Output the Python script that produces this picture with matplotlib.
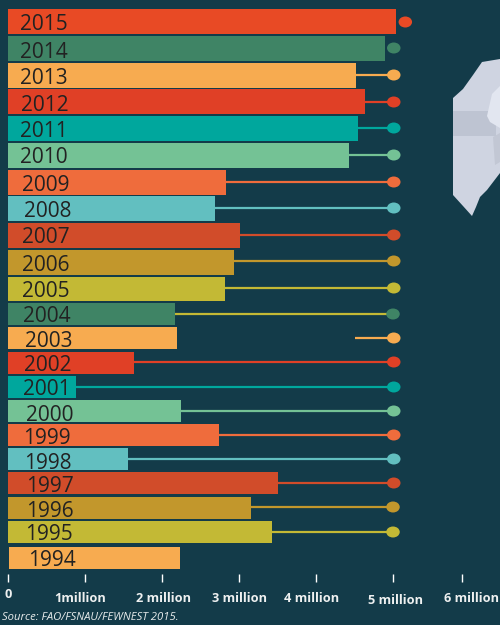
import matplotlib
matplotlib.use("Agg")
import matplotlib.pyplot as plt
from matplotlib.patches import Ellipse, Polygon

# values in million
years = [2015, 2014, 2013, 2012, 2011, 2010, 2009, 2008, 2007, 2006, 2005,
         2004, 2003, 2002, 2001, 2000, 1999, 1998, 1997, 1996, 1995, 1994]
values = [5.04, 4.90, 4.52, 4.64, 4.55, 4.43, 2.83, 2.69, 3.01, 2.94, 2.82,
          2.17, 2.19, 1.64, 0.88, 2.25, 2.74, 1.56, 3.51, 3.16, 3.43, 2.23]
target = [5.16, 5.01, 5.01, 5.01, 5.01, 5.01, 5.01, 5.01, 5.01, 5.01, 5.01,
          5.0, 5.01, 5.01, 5.01, 5.01, 5.01, 5.01, 5.01, 5.0, 5.0, None]
line_start = {2003: 4.5}
no_line = [2015, 2014, 1994]

tick_pos = [0, 1, 2, 3, 4, 5, 5.9]
tick_labels = ["0", "1million", "2 million", "3 million", "4 million", "5 million", "6 million"]

source = "Source: FAO/FSNAU/FEWNEST 2015."

# colours cycle through the years
palette = {2015: "#e84a25", 2014: "#3f8465", 2013: "#f7ab50", 2012: "#e04026",
           2011: "#00a79d", 2010: "#74c295", 2009: "#ef6c3c", 2008: "#62bfc0",
           2007: "#d14c2a", 2006: "#c2972c", 2005: "#c3b935", 2004: "#3f8465",
           2003: "#f7ab50", 2002: "#e04026", 2001: "#00a79d", 2000: "#74c295",
           1999: "#ef6c3c", 1998: "#62bfc0", 1997: "#d14c2a", 1996: "#c2972c",
           1995: "#c3b935", 1994: "#f7ab50"}
line_colour = dict(palette)
line_colour[2004] = "#c3b935"
bg = "#133b49"

# layout in pixels, the rows are not evenly spaced in the original
bar_top = [9, 36, 63, 89, 116, 143, 170, 196, 223, 250, 277,
           303, 327, 352, 376, 400, 424, 448, 472, 497, 521, 547]
bar_bottom = [34, 61, 88, 114, 141, 168, 195, 221, 248, 275, 301,
              325, 349, 374, 398, 422, 446, 470, 494, 519, 543, 569]
dot_y = [22, 48, 75, 102, 128, 155, 182, 208, 235, 261, 288,
         314, 338, 362, 387, 411, 435, 459, 483, 507, 532, None]
label_x = [20, 20, 20, 21, 20, 20, 22, 24, 22, 22, 22,
           23, 25, 24, 23, 26, 23, 24, 26, 26, 25, 28]
label_y = [22, 50, 76, 103, 129, 155, 183, 209, 235, 263, 289,
           314, 339, 363, 387, 413, 436, 461, 484, 509, 532, 558]
tick_label_x = [8, 80, 163, 240, 312, 395, 472]
tick_label_y = [594, 599, 598, 599, 598, 600, 598]

px_per_m = 77.0
x0 = 8.0


def to_val(px):
    return (px - x0) / px_per_m


plt.rcParams["font.family"] = ["Open Sans", "DejaVu Sans"]
fig = plt.figure(figsize=(5, 6.25), dpi=100, facecolor=bg)

# backdrop map shape, in plain pixel coordinates
bg_ax = fig.add_axes([0, 0, 1, 1])
bg_ax.set_xlim(0, 500)
bg_ax.set_ylim(625, 0)
bg_ax.set_facecolor(bg)
bg_ax.axis("off")
outline = [(453, 98), (463, 89), (473, 75), (482, 62), (500, 59), (500, 173),
           (487, 190), (480, 197), (476, 207), (472, 216), (463, 206), (453, 195)]
bg_ax.add_patch(Polygon(outline, closed=True, fc="#cfd4e1", ec="none"))
bg_ax.add_patch(Polygon([(453, 111), (488, 111), (496, 122), (496, 136), (453, 136)],
                        closed=True, fc="#bec4d2", ec="none"))
bg_ax.add_patch(Polygon([(493, 137), (500, 133), (500, 162), (495, 165)],
                        closed=True, fc="#c2c7d4", ec="none"))
bg_ax.add_patch(Polygon([(492, 94), (500, 86), (500, 128), (490, 122), (487, 116)],
                        closed=True, fc="#e2e6f0", ec="none"))

ax = fig.add_axes([0, 0, 1, 1])
ax.patch.set_alpha(0)
ax.set_xlim(to_val(0), to_val(500))
ax.set_ylim(625, 0)
ax.axis("off")

for i, yr in enumerate(years):
    top, bot = bar_top[i], bar_bottom[i]
    left = to_val(9) if yr == 1994 else 0
    ax.barh((top + bot) / 2, values[i] - left, height=bot - top, left=left,
            color=palette[yr], linewidth=0, zorder=3)
    ax.text(to_val(label_x[i]), label_y[i], str(yr), fontsize=15, color="#222222",
            va="center_baseline", ha="left", zorder=5)
    if target[i] is None:
        continue
    if yr not in no_line:
        start = line_start.get(yr, values[i])
        ax.plot([start, target[i]], [dot_y[i], dot_y[i]], color=line_colour[yr],
                lw=1.6, solid_capstyle="butt", zorder=2)
    ax.add_patch(Ellipse((target[i], dot_y[i]), 13.5 / px_per_m, 11,
                         fc=palette[yr], ec="none", zorder=4))

# hand placed axis, the labels wander a little in the original
ax.vlines(tick_pos, 574, 581.5, color="white", lw=1)
for i, lab in enumerate(tick_labels):
    ax.text(to_val(tick_label_x[i]), tick_label_y[i], lab, fontsize=9.2,
            fontweight="bold", color="#eef0f0", ha="center", va="center")

ax.text(to_val(2), 618, source, fontsize=8.1, style="italic", color="#e8ecec",
        ha="left", va="center")

fig.savefig("out.png", dpi=100, facecolor=bg)
